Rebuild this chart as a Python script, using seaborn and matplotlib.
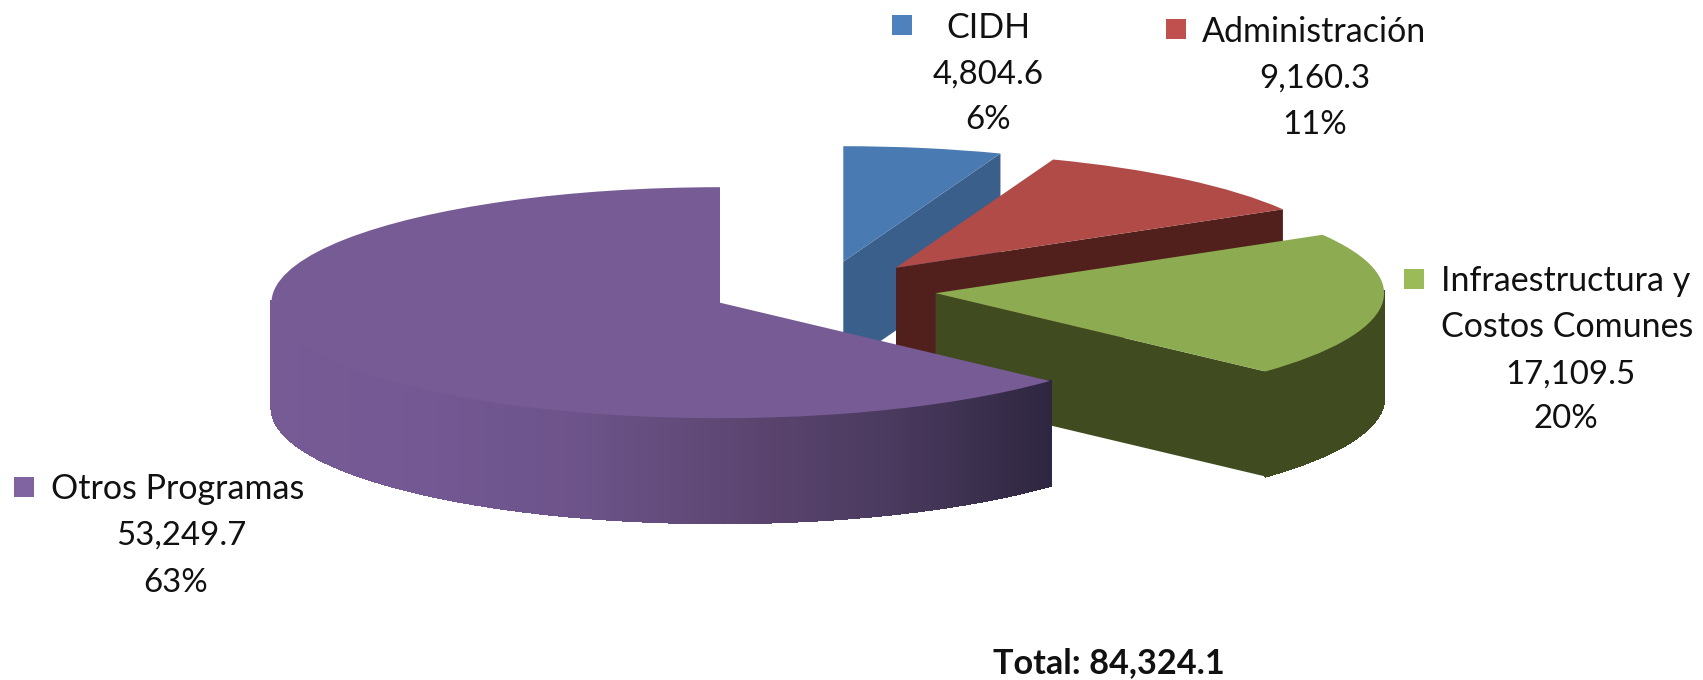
import numpy as np
import matplotlib
matplotlib.use("Agg")
import matplotlib.pyplot as plt
from matplotlib.collections import PolyCollection
from matplotlib.colors import LinearSegmentedColormap
import seaborn as sns

categories = ["CIDH", "Administración", "Infraestructura y Costos Comunes", "Otros Programas"]
values = [4804.6, 9160.3, 17109.5, 53249.7]
value_labels = ["4,804.6", "9,160.3", "17,109.5", "53,249.7"]
percent_labels = ["6%", "11%", "20%", "63%"]
total_label = "Total: 84,324.1"

top_colors = ["#4a7ab2", "#b04b47", "#8dab51", "#775b95"]
side_colors = ["#3a5f8b", "#52201c", "#404c20", "#775b95"]
marker_colors = ["#4f81bd", "#c0504d", "#9bbb59", "#8064a2"]
purple_stops = ["#775b95", "#735893", "#6c5389", "#5d4672", "#4a3a5e", "#2f2741"]

W, H = 1703, 680
RX, RY, DEPTH = 448.5, 115.5, 105.0
apexes = [(843.3, 261.7), (896.0, 267.7), (935.6, 293.2), (720.0, 302.7)]

sns.set_theme(style="white")
plt.rcParams["font.family"] = ["Lato", "DejaVu Sans"]

fig = plt.figure(figsize=(W / 100, H / 100), dpi=100)
ax = fig.add_axes([0, 0, 1, 1])
wedges, _ = ax.pie(values, startangle=90, counterclock=False, radius=1,
                   colors=top_colors, wedgeprops={"linewidth": 0})
ax.set_aspect("auto")
ax.set_xlim(0, W / RX)
ax.set_ylim(0, H / RY)
ax.axis("off")

ramp = LinearSegmentedColormap.from_list("side", purple_stops)
d = DEPTH / RY
for i, w in enumerate(wedges):
    cx, cy = apexes[i][0] / RX, (H - apexes[i][1]) / RY
    w.set_center((cx, cy))
    w.set_zorder(10 * i + 3)
    t = np.radians(np.arange(w.theta1, w.theta2 + 0.25, 0.25))
    xs, ys = cx + np.cos(t), cy + np.sin(t)
    # rim of the slice, split into thin strips
    polys = [[(xs[k], ys[k]), (xs[k + 1], ys[k + 1]), (xs[k + 1], ys[k + 1] - d), (xs[k], ys[k] - d)]
             for k in range(len(t) - 1) if np.sin(t[k]) < 0.02]
    if i == 3:
        span = np.cos(np.radians(w.theta2)) + 1
        cols = [ramp(np.clip((p[0][0] - (cx - 1)) / span, 0, 1)) for p in polys]
    else:
        cols = [side_colors[i]] * len(polys)
    if polys:
        ax.add_collection(PolyCollection(polys, facecolors=cols, edgecolors=cols, linewidths=0.8,
                                         antialiaseds=False, zorder=10 * i + 1))
    # cut faces that look towards the viewer
    if np.sin(np.radians(w.theta1 - 90)) < -1e-6:
        ax.fill([cx, xs[0], xs[0], cx], [cy, ys[0], ys[0] - d, cy - d],
                color=side_colors[i], lw=0, zorder=10 * i + 2)
    if np.sin(np.radians(w.theta2 + 90)) < -1e-6:
        ax.fill([cx, xs[-1], xs[-1], cx], [cy, ys[-1], ys[-1] - d, cy - d],
                color=side_colors[i], lw=0, zorder=10 * i + 2)

# labels in pixel coordinates
ov = fig.add_axes([0, 0, 1, 1], facecolor="none")
ov.set_xlim(0, W)
ov.set_ylim(H, 0)
ov.axis("off")
FS_NUM, FS_CAT, FS_TOTAL = 23.8, 24.5, 24.7
def txt(x, y, s, fs=FS_NUM, **kw):
    ov.text(x, y, s, ha=kw.pop("ha", "center"), va="baseline", fontsize=fs, color="#111111", **kw)

markers = [(901.5, 24.5), (1175.5, 28.5), (1413.5, 278.5), (23.5, 486.5)]
for (mx, my), c in zip(markers, marker_colors):
    ov.scatter([mx], [my], marker="s", s=228, color=c, linewidths=0)

txt(988, 38.3, categories[0], FS_CAT)
txt(988, 83.3, value_labels[0])
txt(988, 129, percent_labels[0])

txt(1202, 41.7, categories[1], FS_CAT, ha="left")
txt(1315, 87.7, value_labels[1])
txt(1315, 133.5, percent_labels[1])

txt(1441, 290.7, "Infraestructura y", FS_CAT, ha="left")
txt(1441, 337.3, "Costos Comunes", FS_CAT, ha="left")
txt(1570, 383.3, value_labels[2])
txt(1565.7, 428.3, percent_labels[2])

txt(51, 499.3, categories[3], FS_CAT, ha="left")
txt(181, 545, value_labels[3])
txt(176, 592, percent_labels[3])

txt(1108.5, 673.3, total_label, FS_TOTAL, fontweight="bold")

fig.savefig("out.png", dpi=100)
